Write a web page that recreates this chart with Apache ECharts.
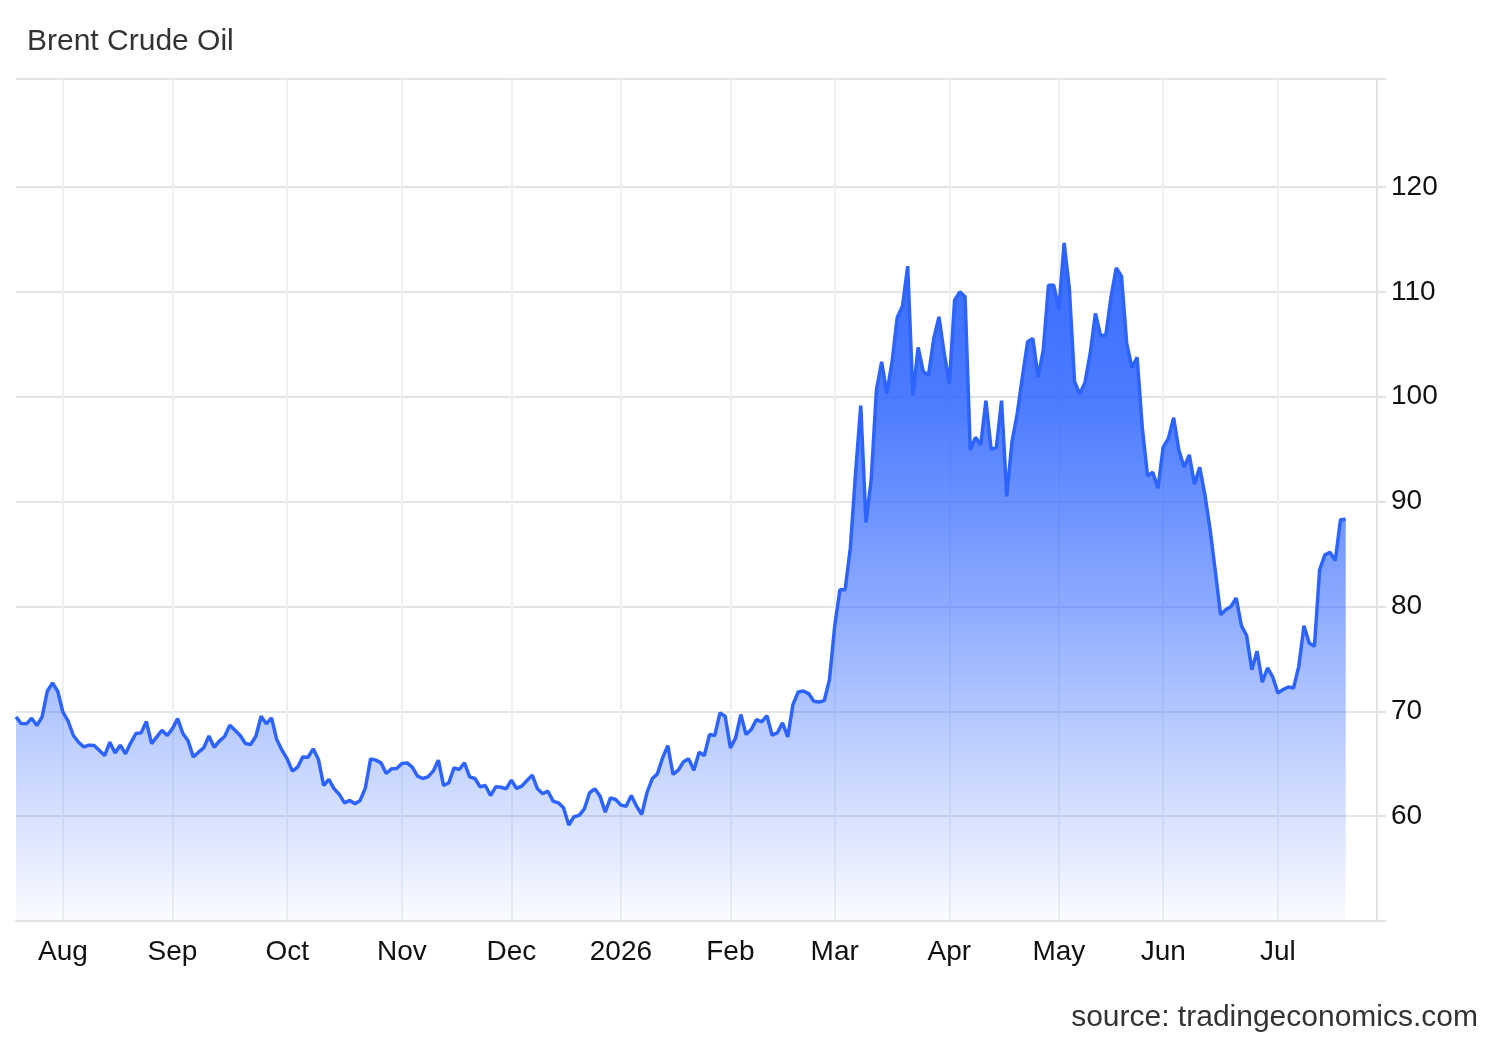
<!DOCTYPE html>
<html><head><meta charset="utf-8">
<script src="https://cdn.jsdelivr.net/npm/echarts@6/dist/echarts.min.js"></script>
<style>html,body{margin:0;padding:0;background:#fff}#c{width:1500px;height:1040px}</style>
</head><body><div id="c"></div>
<script>
// Daily Brent closes (trading days)
const prices = [
69.46,68.83,68.80,69.34,68.64,69.46,71.91,72.70,71.91,69.91,
69.05,67.69,67.05,66.61,66.77,66.73,66.26,65.78,67.05,66.03,
66.77,65.94,66.99,67.88,67.94,69.02,66.92,67.56,68.19,67.69,
68.35,69.30,67.88,67.18,65.65,66.10,66.51,67.65,66.57,67.15,
67.59,68.67,68.19,67.69,66.92,66.83,67.62,69.53,68.80,69.37,
67.30,66.29,65.46,64.29,64.67,65.65,65.62,66.42,65.40,62.92,
63.50,62.61,62.07,61.27,61.50,61.18,61.50,62.70,65.46,65.34,
65.08,64.07,64.51,64.54,65.02,65.08,64.67,63.81,63.59,63.75,
64.29,65.34,62.92,63.18,64.61,64.45,65.08,63.75,63.59,62.80,
62.92,61.97,62.80,62.76,62.61,63.43,62.64,62.86,63.40,63.91,
62.61,62.13,62.38,61.43,61.27,60.80,59.15,59.94,60.07,60.70,
62.23,62.61,61.91,60.38,61.75,61.59,61.05,60.95,61.97,60.95,
60.16,62.23,63.56,64.03,65.56,66.73,63.97,64.38,65.18,65.46,
64.38,66.10,65.78,67.78,67.69,69.84,69.53,66.51,67.46,69.69,
67.78,68.26,69.21,68.99,69.59,67.72,67.94,68.89,67.56,70.64,
71.84,71.94,71.69,70.96,70.89,71.02,73.02,78.10,81.59,81.59,
85.56,92.70,99.15,88.00,92.07,100.64,103.34,100.32,103.34,107.56,
108.64,112.45,100.10,104.70,102.38,102.07,105.56,107.62,104.13,101.27,
109.21,110.00,109.53,94.92,96.13,95.40,99.62,94.99,95.15,99.62,
90.50,95.72,98.35,101.91,105.24,105.56,101.88,104.45,110.64,110.64,
108.32,114.67,110.32,101.43,100.26,101.37,104.13,107.94,105.81,105.88,
109.53,112.29,111.50,105.08,102.77,103.75,96.99,92.45,92.80,91.27,
95.20,96.03,98.00,94.92,93.27,94.45,91.65,93.27,90.64,87.30,
83.34,79.21,79.69,80.00,80.80,78.16,77.21,73.97,75.72,72.77,
74.13,73.27,71.75,72.07,72.32,72.22,74.29,78.16,76.51,76.19,
83.50,84.92,85.15,84.38,88.26,88.32
];
const monthLabels = ['Aug','Sep','Oct','Nov','Dec','2026','Feb','Mar','Apr','May','Jun','Jul'];
const monthStart  = [9,30,52,74,95,116,137,157,179,200,220,242];
const categoryCount = 262;
const yTickValues  = [50,60,70,80,90,100,110,120,130.3];
const yLabelValues = [60,70,80,90,100,110,120];

const categories = Array.from({length: categoryCount}, (_, i) => String(i));
const labelAt = {};
monthStart.forEach((idx, k) => { labelAt[idx] = monthLabels[k]; });
const isMonth = (idx) => labelAt[idx] !== undefined;

const FONT = "'Liberation Sans', Arial, Helvetica, sans-serif";
const chart = echarts.init(document.getElementById('c'), null, {renderer: 'canvas'});
chart.setOption({
  animation: false,
  backgroundColor: '#ffffff',
  title: [
    {text: 'Brent Crude Oil', left: 27, top: 27, padding: 0,
     textStyle: {fontFamily: FONT, fontSize: 30, fontWeight: 'normal', color: '#333333'}},
    {text: 'source: tradingeconomics.com', right: 22, top: 1003, padding: 0,
     textStyle: {fontFamily: FONT, fontSize: 30, fontWeight: 'normal', color: '#333333'}}
  ],
  grid: {left: 16, right: 123, top: 79, bottom: 119, containLabel: false},
  xAxis: {
    type: 'category',
    data: categories,
    boundaryGap: false,
    axisLine: {show: true, lineStyle: {color: '#e2e2e2', width: 2}},
    axisTick: {show: false},
    axisLabel: {
      interval: (idx) => isMonth(idx),
      formatter: (val, idx) => labelAt[Number(val)] || '',
      margin: 17, fontFamily: FONT, fontSize: 28, color: '#111111'
    },
    splitLine: {show: true, interval: (idx) => isMonth(idx),
      lineStyle: {color: '#edf0f5', width: 2}}
  },
  yAxis: {
    type: 'value',
    position: 'right',
    min: 50, max: 130.3, interval: 10,
    axisLine: {show: true, lineStyle: {color: '#e2e2e2', width: 2}},
    axisTick: {show: true, length: 9, customValues: yTickValues,
      lineStyle: {color: '#e2e2e2', width: 2}},
    axisLabel: {customValues: yLabelValues, margin: 14,
      fontFamily: FONT, fontSize: 28, color: '#111111'},
    splitLine: {show: true, lineStyle: {color: '#e4e4e4', width: 2}}
  },
  series: [{
    type: 'line',
    data: prices,
    showSymbol: false,
    symbol: 'none',
    lineStyle: {color: '#2d64ff', width: 3.5},
    itemStyle: {color: '#2d64ff'},
    areaStyle: {
      opacity: 1,
      color: new echarts.graphic.LinearGradient(0, 0, 0, 1, [
        {offset: 0, color: 'rgba(45,100,255,0.95)'},
        {offset: 0.23, color: 'rgba(45,100,255,0.85)'},
        {offset: 0.38, color: 'rgba(45,100,255,0.71)'},
        {offset: 0.54, color: 'rgba(45,100,255,0.54)'},
        {offset: 0.69, color: 'rgba(45,100,255,0.36)'},
        {offset: 0.845, color: 'rgba(45,100,255,0.19)'},
        {offset: 1, color: 'rgba(45,100,255,0.02)'}
      ])
    }
  }]
});
</script></body></html>
